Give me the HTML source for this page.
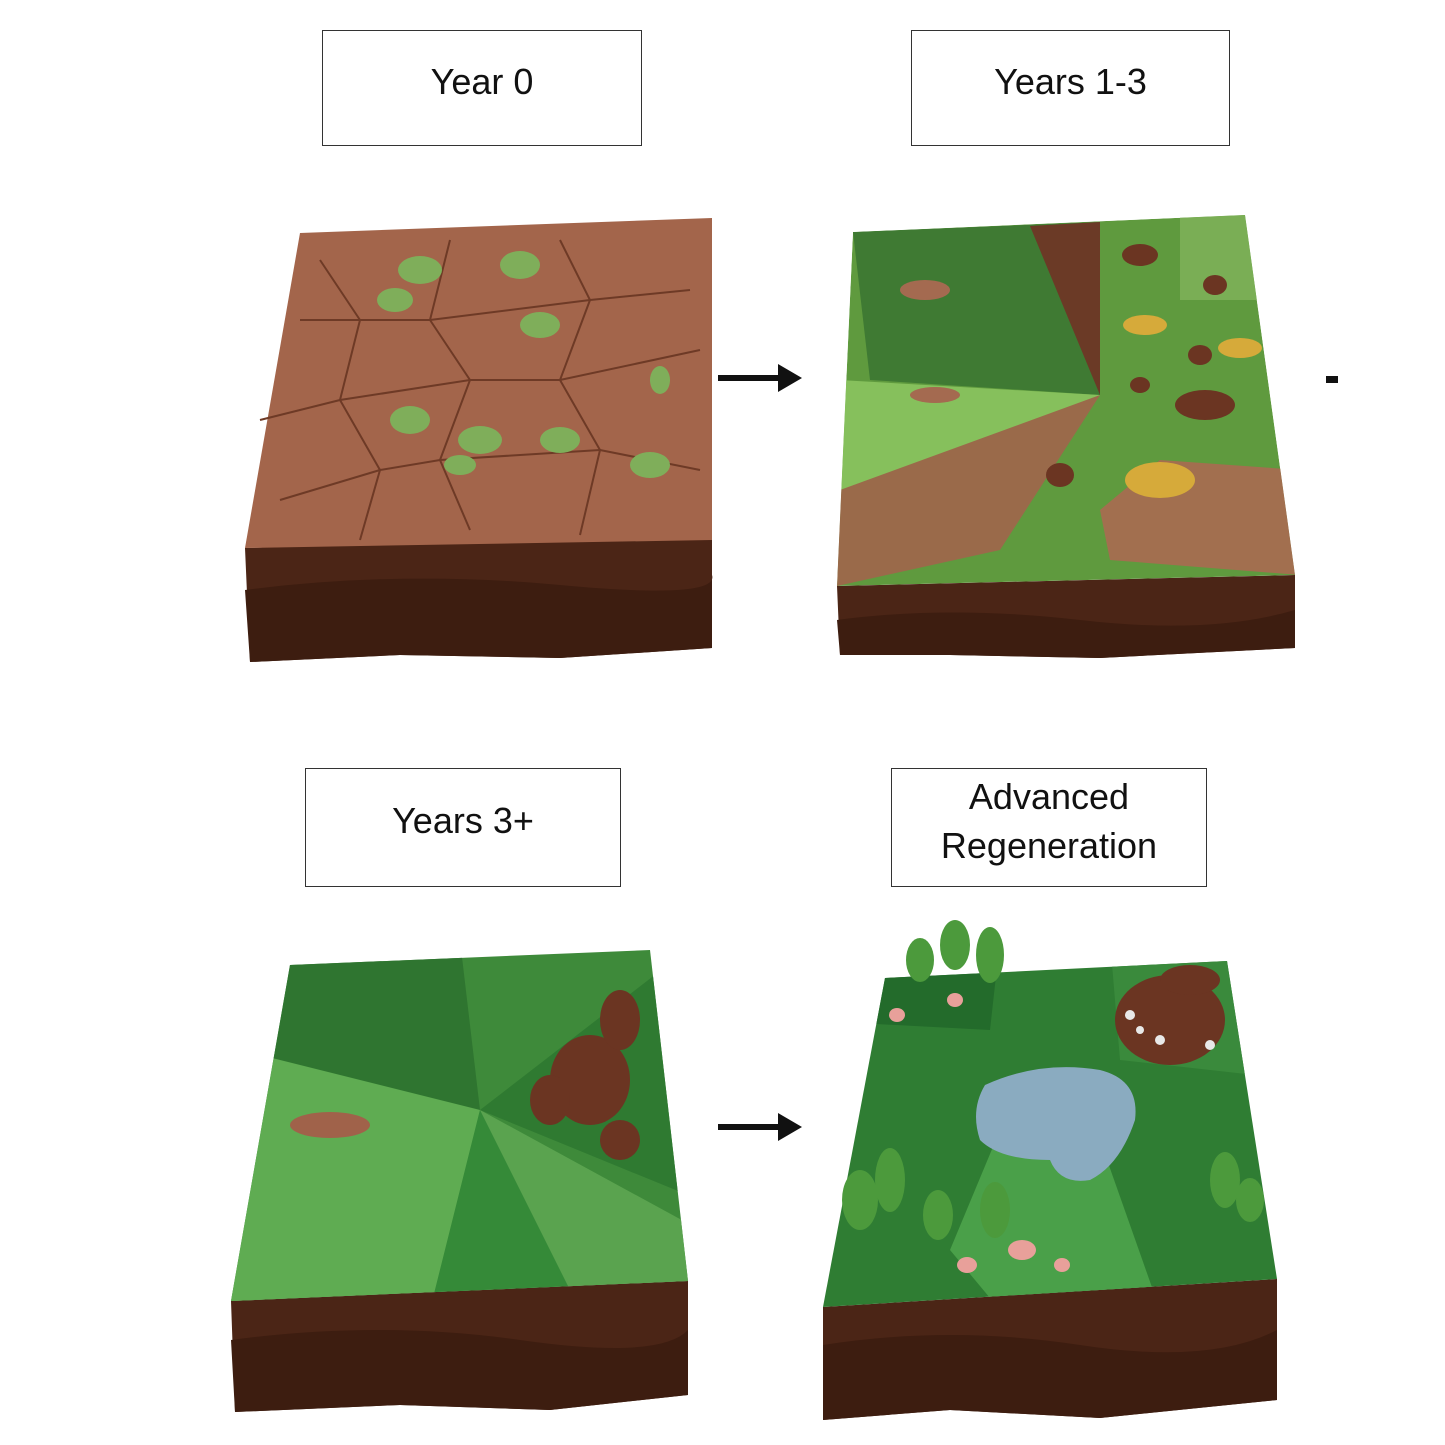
<!DOCTYPE html>
<html><head><meta charset="utf-8"><style>
html,body{margin:0;padding:0;background:#fff}
.lb{position:absolute;border:1.5px solid #333;background:#fff;box-sizing:border-box;display:flex;align-items:center;justify-content:center;text-align:center;font-family:"Liberation Sans",sans-serif;font-size:36px;color:#111;line-height:1.35;padding-bottom:12px}
</style></head><body>
<div style="position:relative;width:1445px;height:1445px;overflow:hidden">
<svg width="1445" height="1445" viewBox="0 0 1445 1445" style="position:absolute;left:0;top:0">
<defs>
<clipPath id="c3"><polygon points="290,965 650,950 688,1281 231,1301"/></clipPath>
<clipPath id="c4"><polygon points="885,978 1227,961 1277,1279 823,1307"/></clipPath>
<clipPath id="c2"><polygon points="853,232 1245,215 1295,575 837,586"/></clipPath>
</defs>
<!-- Block 1 -->
<polygon points="245,548 712,535 712,648 560,658 400,655 250,662" fill="#4b2516"/>
<path d="M245,590 Q400,570 560,585 T712,575 L712,648 560,658 400,655 250,662Z" fill="#3d1d10"/>
<polygon points="300,233 712,218 712,540 245,548" fill="#a3654b"/>
<g stroke="#6e3a26" stroke-width="2" fill="none">
<path d="M320,260 L360,320 L340,400 L380,470 L360,540"/><path d="M450,240 L430,320 L470,380 L440,460 L470,530"/>
<path d="M560,240 L590,300 L560,380 L600,450 L580,535"/><path d="M260,420 L340,400 L470,380 L560,380 L700,350"/>
<path d="M280,500 L380,470 L440,460 L600,450 L700,470"/><path d="M300,320 L360,320 L430,320 L590,300 L690,290"/>
</g>
<g fill="#7fae5a">
<ellipse cx="420" cy="270" rx="22" ry="14"/><ellipse cx="520" cy="265" rx="20" ry="14"/><ellipse cx="395" cy="300" rx="18" ry="12"/>
<ellipse cx="540" cy="325" rx="20" ry="13"/><ellipse cx="410" cy="420" rx="20" ry="14"/><ellipse cx="480" cy="440" rx="22" ry="14"/>
<ellipse cx="560" cy="440" rx="20" ry="13"/><ellipse cx="460" cy="465" rx="16" ry="10"/><ellipse cx="650" cy="465" rx="20" ry="13"/><ellipse cx="660" cy="380" rx="10" ry="14"/>
</g>
<!-- Block 2 -->
<polygon points="837,586 1295,575 1295,648 1100,658 950,655 840,655" fill="#4b2516"/>
<path d="M837,620 Q950,605 1080,620 T1295,610 L1295,648 1100,658 950,655 840,655Z" fill="#3d1d10"/>
<g clip-path="url(#c2)">
<polygon points="853,232 1245,215 1295,575 837,586" fill="#5f9a3e"/>
<polygon points="853,232 1100,222 1100,395 870,380" fill="#3f7a33"/>
<polygon points="1030,226 1100,222 1100,395" fill="#6b3a26"/>
<polygon points="840,380 1100,395 1060,440 840,490" fill="#86c05c"/>
<polygon points="840,490 1100,395 1000,550 837,586" fill="#9a6a4a"/>
<polygon points="1160,460 1300,470 1300,575 1110,560 1100,510" fill="#a26f4f"/>
<polygon points="1180,215 1260,215 1260,300 1180,300" fill="#7aae55"/>
</g>
<ellipse cx="1160" cy="480" rx="35" ry="18" fill="#d6aa3a"/><ellipse cx="1145" cy="325" rx="22" ry="10" fill="#d6aa3a"/><ellipse cx="1240" cy="348" rx="22" ry="10" fill="#d6aa3a"/>
<g fill="#6b3522"><ellipse cx="1205" cy="405" rx="30" ry="15"/><ellipse cx="1140" cy="255" rx="18" ry="11"/><ellipse cx="1060" cy="475" rx="14" ry="12"/><ellipse cx="1200" cy="355" rx="12" ry="10"/><ellipse cx="1140" cy="385" rx="10" ry="8"/><ellipse cx="1215" cy="285" rx="12" ry="10"/></g>
<ellipse cx="935" cy="395" rx="25" ry="8" fill="#a46a50"/><ellipse cx="925" cy="290" rx="25" ry="10" fill="#a46a50"/>
<!-- Block 3 -->
<polygon points="231,1301 688,1281 688,1395 550,1410 400,1405 235,1412" fill="#4b2516"/>
<path d="M231,1340 Q380,1320 520,1340 T688,1330 L688,1395 550,1410 400,1405 235,1412Z" fill="#3d1d10"/>
<g clip-path="url(#c3)">
<polygon points="200,940 700,940 700,1301 200,1301" fill="#3e8a3a"/>
<polygon points="200,940 460,940 480,1110 200,1040" fill="#2f7530"/>
<polygon points="200,1040 480,1110 430,1310 200,1310" fill="#5fac52"/>
<polygon points="480,1110 580,1310 430,1310" fill="#358a38"/>
<polygon points="480,1110 700,1230 700,1310 580,1310" fill="#5aa34f"/>
<polygon points="480,1110 700,940 700,1200" fill="#2f7a31"/>
</g>
<ellipse cx="330" cy="1125" rx="40" ry="13" fill="#a0624a"/>
<g fill="#6b3522"><ellipse cx="590" cy="1080" rx="40" ry="45"/><ellipse cx="620" cy="1020" rx="20" ry="30"/><ellipse cx="550" cy="1100" rx="20" ry="25"/><ellipse cx="620" cy="1140" rx="20" ry="20"/></g>
<!-- Block 4 -->
<polygon points="823,1307 1277,1279 1277,1400 1100,1418 950,1410 823,1420" fill="#4b2516"/>
<path d="M823,1345 Q950,1325 1080,1345 T1277,1330 L1277,1400 1100,1418 950,1410 823,1420Z" fill="#3d1d10"/>
<g clip-path="url(#c4)">
<polygon points="800,940 1300,940 1300,1310 800,1310" fill="#2f7d33"/>
<polygon points="1110,940 1300,940 1300,1080 1120,1060" fill="#3a8a3c"/>
<polygon points="1000,1130 1100,1140 1160,1310 1000,1310 950,1250" fill="#4aa049"/>
<polygon points="800,940 1000,940 990,1030 800,1020" fill="#236b2b"/>
</g>
<path d="M985,1085 Q1040,1060 1100,1070 Q1140,1080 1135,1120 Q1120,1165 1090,1180 Q1060,1185 1050,1160 Q1000,1160 980,1140 Q970,1110 985,1085Z" fill="#8aabc0"/>
<g fill="#6b3522"><ellipse cx="1170" cy="1020" rx="55" ry="45"/><ellipse cx="1190" cy="980" rx="30" ry="15"/></g>
<g fill="#e8e8e8"><circle cx="1130" cy="1015" r="5"/><circle cx="1160" cy="1040" r="5"/><circle cx="1210" cy="1045" r="5"/><circle cx="1140" cy="1030" r="4"/></g>
<g fill="#4c9a3c"><ellipse cx="920" cy="960" rx="14" ry="22"/><ellipse cx="955" cy="945" rx="15" ry="25"/><ellipse cx="990" cy="955" rx="14" ry="28"/>
<ellipse cx="860" cy="1200" rx="18" ry="30"/><ellipse cx="890" cy="1180" rx="15" ry="32"/><ellipse cx="938" cy="1215" rx="15" ry="25"/><ellipse cx="995" cy="1210" rx="15" ry="28"/><ellipse cx="1225" cy="1180" rx="15" ry="28"/><ellipse cx="1250" cy="1200" rx="14" ry="22"/></g>
<g fill="#e8a09a"><ellipse cx="1022" cy="1250" rx="14" ry="10"/><ellipse cx="967" cy="1265" rx="10" ry="8"/><ellipse cx="1062" cy="1265" rx="8" ry="7"/><ellipse cx="897" cy="1015" rx="8" ry="7"/><ellipse cx="955" cy="1000" rx="8" ry="7"/></g>
<!-- arrows -->
<g stroke="#111" stroke-width="6"><line x1="718" y1="378" x2="785" y2="378"/><line x1="718" y1="1127" x2="785" y2="1127"/></g>
<g fill="#111"><polygon points="778,364 802,378 778,392"/><polygon points="778,1113 802,1127 778,1141"/></g>
<rect x="1326" y="376" width="12" height="7" fill="#111"/>
</svg>
<div class="lb" style="left:322px;top:30px;width:320px;height:116px">Year 0</div>
<div class="lb" style="left:911px;top:30px;width:319px;height:116px">Years 1-3</div>
<div class="lb" style="left:305px;top:768px;width:316px;height:119px">Years 3+</div>
<div class="lb" style="left:891px;top:768px;width:316px;height:119px">Advanced<br>Regeneration</div>
</div>
</body></html>
